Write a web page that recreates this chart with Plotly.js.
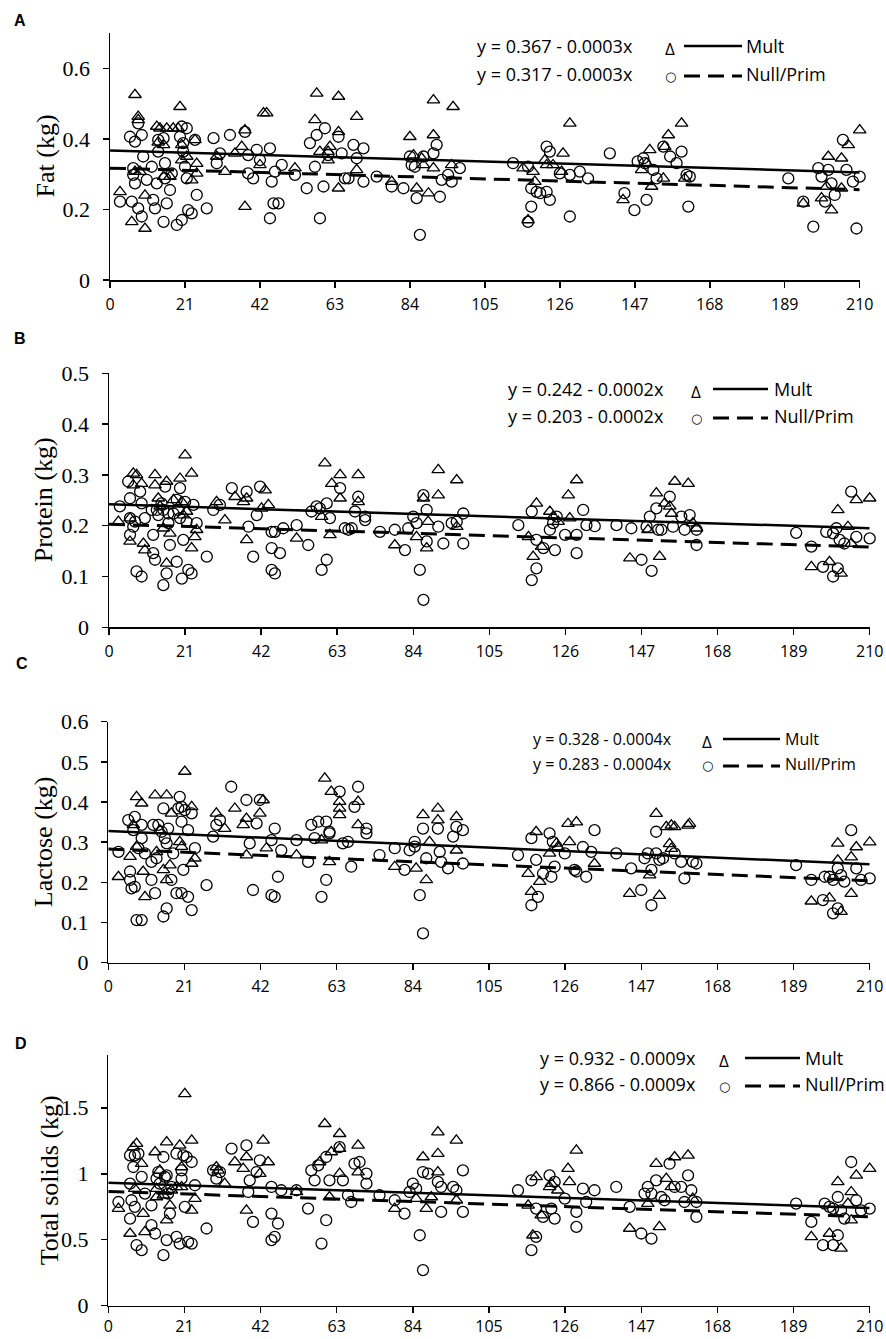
<!DOCTYPE html>
<html>
<head>
<meta charset="utf-8">
<script src="https://cdn.plot.ly/plotly-3.0.1.min.js"></script>
<style>
  html, body { margin: 0; padding: 0; background: #fff; }
  #chart { width: 886px; height: 1339px; }
</style>
</head>
<body>
<div id="chart"></div>
<script>
// days in milk, tick positions
const dayTicks = [0, 21, 42, 63, 84, 105, 126, 147, 168, 189, 210];
const trendX = [0, 210];

// ---- A: fat (kg) ----
const fatMult = [[2.8,0.25],[7.0,0.525],[7.9,0.463],[7.9,0.454],[6.1,0.165],[9.8,0.146],[9.8,0.24],[7.0,0.307],[8.4,0.307],[13.1,0.435],[14.0,0.43],[13.5,0.39],[15.0,0.383],[15.9,0.43],[17.7,0.43],[19.1,0.43],[19.6,0.491],[20.1,0.383],[15.0,0.293],[16.8,0.293],[20.1,0.34],[21.5,0.35],[23.8,0.397],[24.3,0.33],[22.9,0.283],[24.3,0.302],[29.9,0.35],[32.2,0.307],[35.0,0.359],[36.9,0.378],[37.8,0.425],[37.8,0.208],[42.0,0.326],[43.0,0.473],[43.9,0.473],[51.8,0.317],[57.9,0.529],[57.4,0.454],[58.8,0.364],[61.1,0.364],[61.6,0.378],[61.1,0.34],[64.0,0.52],[64.0,0.42],[64.0,0.26],[69.1,0.463],[69.1,0.312],[78.9,0.279],[84.0,0.406],[85.0,0.354],[85.9,0.26],[87.3,0.345],[87.8,0.326],[89.2,0.246],[90.6,0.411],[90.6,0.51],[90.6,0.317],[96.1,0.491],[95.7,0.326],[115.7,0.317],[117.1,0.17],[118.5,0.307],[119.0,0.279],[121.8,0.34],[122.3,0.326],[124.1,0.326],[126.9,0.359],[126.5,0.307],[128.8,0.444],[143.7,0.227],[148.9,0.312],[151.2,0.369],[150.3,0.331],[151.7,0.265],[155.0,0.288],[155.4,0.378],[156.4,0.411],[160.1,0.444],[161.0,0.288],[194.2,0.217],[199.3,0.232],[201.2,0.35],[202.1,0.198],[200.7,0.265],[204.9,0.345],[204.9,0.26],[206.8,0.383],[210.0,0.425]];
const fatNull = [[2.8,0.222],[5.6,0.406],[6.1,0.222],[7,0.392],[6.5,0.317],[6.5,0.298],[7,0.274],[7.9,0.444],[8.9,0.411],[9.3,0.35],[7.9,0.203],[8.9,0.18],[10.3,0.284],[11.7,0.321],[12.1,0.227],[12.6,0.203],[13.1,0.274],[13.5,0.397],[13.5,0.364],[15,0.402],[15.4,0.331],[15.4,0.288],[15.9,0.217],[15,0.165],[16.8,0.255],[17.3,0.302],[18.7,0.156],[19.6,0.406],[20.1,0.435],[20.1,0.17],[20.5,0.388],[20.5,0.364],[21,0.321],[21.5,0.43],[21.5,0.288],[21.9,0.198],[22.9,0.189],[23.8,0.397],[24.3,0.241],[27.1,0.203],[29,0.402],[29.9,0.331],[30.8,0.359],[33.6,0.411],[37.8,0.42],[38.7,0.354],[38.7,0.302],[40.1,0.288],[41.1,0.369],[42,0.34],[44.8,0.373],[45.3,0.279],[46.2,0.307],[45.8,0.217],[47.2,0.217],[44.8,0.175],[48.1,0.326],[51.8,0.298],[55.1,0.26],[56,0.388],[57.9,0.411],[57.4,0.321],[60.2,0.43],[58.8,0.175],[59.8,0.265],[61.1,0.354],[64,0.406],[64.9,0.359],[65.8,0.288],[66.8,0.288],[68.2,0.383],[69.1,0.345],[71,0.373],[71,0.279],[74.7,0.293],[78.9,0.265],[82.2,0.26],[84,0.35],[84.5,0.326],[85.4,0.321],[85.9,0.232],[86.8,0.128],[87.8,0.35],[90.6,0.359],[91.5,0.383],[92.4,0.236],[92.9,0.284],[94.7,0.298],[95.7,0.279],[98,0.317],[112.9,0.331],[117.1,0.321],[118,0.26],[118,0.208],[117.1,0.165],[119.5,0.25],[120.5,0.246],[122.3,0.378],[123.2,0.364],[122.3,0.25],[123.2,0.227],[126,0.302],[128.8,0.298],[128.8,0.18],[131.6,0.307],[133.9,0.288],[140,0.359],[144.1,0.246],[146.9,0.198],[147.8,0.336],[149.4,0.345],[149.8,0.331],[150.3,0.227],[152.2,0.312],[153.1,0.288],[155,0.378],[156.9,0.35],[158.7,0.331],[160.1,0.364],[161.5,0.298],[162.4,0.293],[162,0.208],[190,0.288],[194.2,0.222],[197,0.151],[198.4,0.317],[199.3,0.293],[200.3,0.222],[201.2,0.312],[202.1,0.274],[203,0.241],[205.3,0.397],[206.3,0.312],[208.1,0.279],[209.1,0.146],[210,0.293]];
const fatMultFit = [0.367, 0.305];
const fatNullFit = [0.317, 0.256];
const fatEquations = ['y = 0.367 - 0.0003x', 'y = 0.317 - 0.0003x'];
const fatTicks = [0, 0.2, 0.4, 0.6];

// ---- B: protein (kg) ----
const proteinMult = [[2.6,0.208],[5.8,0.169],[5.8,0.215],[6.7,0.303],[7.6,0.3],[6.7,0.28],[9,0.283],[9.5,0.165],[9.9,0.152],[12.7,0.3],[12.7,0.28],[13.6,0.254],[14.1,0.238],[15,0.195],[15.9,0.287],[15.9,0.126],[16.8,0.185],[17.8,0.251],[19.6,0.293],[20.1,0.247],[20.5,0.221],[21,0.339],[21.4,0.228],[22.8,0.303],[22.8,0.156],[23.7,0.178],[24.2,0.192],[29.7,0.247],[32,0.211],[34.8,0.257],[37.1,0.247],[38,0.254],[38,0.172],[42.1,0.234],[43.1,0.27],[44,0.241],[51.8,0.175],[59.6,0.323],[58.7,0.218],[61,0.182],[61.5,0.283],[63.8,0.3],[63.8,0.254],[68.8,0.3],[68.8,0.247],[78.9,0.162],[84.9,0.178],[86.8,0.254],[88.1,0.208],[87.7,0.156],[90.9,0.31],[90.9,0.26],[96,0.29],[96,0.198],[115.8,0.178],[117.1,0.139],[118,0.244],[119.4,0.159],[121.7,0.228],[122.6,0.218],[124,0.208],[126.8,0.26],[129.1,0.29],[127.2,0.215],[143.8,0.136],[148.8,0.192],[151.1,0.264],[152,0.139],[153.4,0.244],[154.8,0.238],[155.3,0.224],[156.2,0.287],[159.9,0.283],[161.2,0.205],[162.2,0.195],[193.9,0.119],[198.9,0.129],[201.2,0.231],[202.1,0.106],[204,0.198],[204.9,0.165],[206.3,0.251],[210,0.254]];
const proteinNull = [[3,0.238],[5.3,0.287],[5.8,0.254],[5.8,0.215],[5.8,0.182],[6.7,0.198],[7.2,0.208],[7.6,0.11],[9,0.1],[8.6,0.267],[9,0.244],[9.9,0.215],[11.8,0.231],[12.2,0.146],[12.2,0.182],[12.7,0.133],[13.2,0.231],[13.6,0.221],[14.5,0.244],[15,0.231],[15,0.083],[15.5,0.277],[15.9,0.106],[16.4,0.224],[16.4,0.205],[16.8,0.162],[17.8,0.224],[18.7,0.129],[18.7,0.251],[19.1,0.231],[19.6,0.274],[19.6,0.215],[20.1,0.096],[20.5,0.172],[21,0.247],[21.4,0.208],[21.9,0.113],[22.8,0.106],[23.3,0.241],[24.2,0.205],[27,0.139],[28.8,0.231],[30.6,0.241],[33.9,0.274],[38,0.267],[38.5,0.198],[39.8,0.139],[40.8,0.221],[41.7,0.277],[44.9,0.188],[45.8,0.188],[44.9,0.156],[44.9,0.113],[45.8,0.106],[47.2,0.146],[48.1,0.195],[51.8,0.201],[55,0.162],[55.9,0.228],[57.3,0.238],[58.2,0.234],[60.1,0.244],[60.1,0.133],[58.7,0.113],[61,0.215],[63.8,0.274],[65.1,0.195],[66.1,0.192],[67,0.195],[67.9,0.228],[68.8,0.257],[70.7,0.218],[70.7,0.211],[74.8,0.188],[78.9,0.192],[81.7,0.152],[82.6,0.195],[84,0.218],[84.9,0.205],[86.8,0.26],[85.8,0.113],[86.8,0.054],[87.7,0.231],[87.7,0.169],[90.9,0.198],[92.3,0.165],[94.6,0.205],[96,0.208],[97.8,0.224],[97.8,0.165],[113,0.201],[116.7,0.228],[118,0.172],[118,0.116],[116.7,0.093],[119.9,0.156],[123.1,0.152],[121.7,0.192],[122.6,0.205],[123.6,0.218],[125.9,0.182],[129.1,0.182],[129.1,0.146],[130.9,0.231],[131.8,0.201],[134.1,0.199],[140.1,0.201],[144.2,0.195],[147,0.133],[148.4,0.198],[149.3,0.218],[151.1,0.234],[149.8,0.111],[151.6,0.192],[152.5,0.192],[154.8,0.257],[155.7,0.198],[158,0.218],[158.9,0.192],[160.3,0.221],[162.2,0.192],[162.2,0.162],[189.7,0.186],[193.9,0.159],[197.1,0.119],[198,0.188],[199.9,0.185],[200.8,0.195],[199.9,0.1],[201.2,0.116],[201.7,0.172],[203,0.165],[204.9,0.267],[206.3,0.178],[210,0.175]];
const proteinMultFit = [0.242, 0.195];
const proteinNullFit = [0.203, 0.158];
const proteinEquations = ['y = 0.242 - 0.0002x', 'y = 0.203 - 0.0002x'];
const proteinTicks = [0, 0.1, 0.2, 0.3, 0.4, 0.5];

// ---- C: lactose (kg) ----
const lactoseMult = [[2.8,0.214],[6,0.264],[6.9,0.343],[7.8,0.413],[9.2,0.397],[7.8,0.289],[9.6,0.227],[10.1,0.164],[12.9,0.417],[13.3,0.276],[14.2,0.33],[15.2,0.231],[16.1,0.417],[16.1,0.206],[17,0.243],[17.4,0.372],[19.7,0.301],[20.2,0.289],[21.1,0.476],[23,0.388],[23,0.247],[23.9,0.26],[29.8,0.372],[32.1,0.334],[34.9,0.384],[37.2,0.343],[38.1,0.359],[38.1,0.268],[41.8,0.372],[42.7,0.405],[43.6,0.285],[51.9,0.268],[59.7,0.459],[58.8,0.305],[61.5,0.426],[61,0.251],[63.8,0.401],[63.8,0.384],[63.8,0.368],[68.9,0.401],[68.9,0.343],[79,0.239],[84.9,0.235],[86.8,0.368],[87.7,0.206],[88.6,0.301],[90.9,0.384],[90.9,0.355],[96,0.363],[96,0.28],[115.8,0.222],[116.7,0.177],[118,0.326],[119,0.202],[121.7,0.272],[123.6,0.297],[124,0.288],[126.8,0.346],[129.1,0.35],[127.2,0.301],[134.1,0.247],[143.8,0.172],[149.3,0.218],[151.1,0.371],[152,0.167],[153.9,0.338],[155.3,0.342],[156.2,0.338],[154.8,0.296],[155.3,0.284],[159.9,0.342],[160.3,0.346],[193.9,0.153],[198.9,0.161],[201.2,0.297],[201.2,0.255],[202.1,0.127],[204.9,0.172],[204.9,0.263],[206.3,0.288],[210,0.3]];
const lactoseNull = [[2.8,0.276],[5.5,0.355],[6,0.227],[6,0.206],[6.4,0.185],[7.3,0.189],[6.9,0.33],[7.3,0.363],[7.8,0.106],[9.2,0.106],[8.3,0.285],[9.2,0.343],[9.2,0.31],[10.1,0.272],[11.9,0.251],[11.9,0.206],[12.9,0.173],[12.4,0.343],[13.3,0.26],[13.8,0.343],[14.7,0.326],[15.2,0.384],[15.2,0.115],[15.6,0.31],[16.1,0.297],[16.1,0.135],[16.5,0.334],[17.4,0.206],[17.9,0.272],[18.8,0.173],[19.3,0.384],[19.7,0.413],[20.2,0.388],[20.2,0.173],[20.2,0.351],[20.7,0.231],[21.1,0.38],[22,0.33],[22,0.164],[23,0.131],[23,0.372],[23.9,0.285],[27.1,0.193],[28.9,0.314],[29.8,0.343],[30.8,0.355],[33.9,0.438],[38.1,0.405],[39,0.297],[39.9,0.181],[40.9,0.347],[41.8,0.405],[45,0.305],[45.9,0.334],[45,0.168],[45.9,0.164],[46.8,0.214],[47.7,0.28],[51.9,0.305],[55.1,0.251],[56,0.343],[56.9,0.31],[57.9,0.351],[60.1,0.351],[58.8,0.164],[60.1,0.206],[61,0.326],[61,0.322],[63.8,0.426],[64.7,0.297],[66.1,0.301],[67,0.239],[67.9,0.388],[68.9,0.438],[71.2,0.334],[71.2,0.322],[74.8,0.268],[79,0.285],[81.7,0.231],[83.1,0.28],[84.5,0.301],[84.5,0.289],[85.9,0.168],[86.8,0.073],[86.8,0.334],[87.7,0.26],[90.9,0.334],[91.4,0.276],[91.8,0.251],[93.7,0.235],[95.1,0.314],[96,0.338],[97.8,0.33],[97.8,0.247],[113,0.268],[116.7,0.31],[118,0.256],[118.5,0.164],[116.7,0.143],[119.9,0.222],[121.7,0.322],[122.6,0.301],[122.2,0.214],[123.1,0.239],[125.9,0.272],[128.6,0.231],[129.1,0.227],[130.9,0.288],[131.8,0.214],[133.2,0.276],[134.1,0.33],[140.1,0.272],[144.2,0.235],[147,0.181],[147.9,0.26],[148.8,0.272],[149.8,0.231],[149.8,0.143],[151.1,0.326],[151.1,0.272],[152,0.256],[153,0.26],[156.2,0.272],[158,0.251],[158.9,0.21],[161.2,0.251],[162.2,0.247],[189.7,0.243],[193.9,0.206],[197.1,0.156],[197.6,0.214],[198.9,0.214],[199.9,0.206],[199.9,0.123],[201.2,0.135],[201.2,0.235],[202.1,0.218],[203,0.202],[204.9,0.33],[206.3,0.235],[207.6,0.206],[210,0.21]];
const lactoseMultFit = [0.328, 0.245];
const lactoseNullFit = [0.283, 0.204];
const lactoseEquations = ['y = 0.328 - 0.0004x', 'y = 0.283 - 0.0004x'];
const lactoseTicks = [0, 0.1, 0.2, 0.3, 0.4, 0.5, 0.6];

// ---- D: total solids (kg) ----
const solidsMult = [[2.8,0.736],[6,0.547],[6.9,1.202],[7.8,1.228],[7.3,0.887],[9.2,1.076],[9.6,0.698],[10.1,0.56],[12.9,1.165],[13.3,0.887],[13.3,0.824],[14.2,1.026],[15.2,0.837],[16.1,1.24],[16.1,0.648],[17,0.761],[17.4,0.875],[18.8,0.9],[19.7,1.215],[20.2,1.051],[20.2,0.9],[21.1,1.606],[23,1.253],[23,0.723],[23.9,0.812],[29.8,1.051],[30.3,1.026],[32.1,0.925],[34.9,1.089],[37.2,1.039],[38.1,1.127],[38.1,0.723],[41.8,1.001],[42.7,1.253],[44.1,1.089],[51.9,0.862],[59.7,1.379],[58.3,1.089],[61,0.824],[61.5,1.165],[63.8,1.303],[63.8,1.19],[63.8,1.001],[68.9,1.215],[68.9,1.013],[79,0.736],[84.9,0.812],[86.8,1.127],[87.7,0.736],[89.1,0.824],[90.9,1.316],[90.9,1.152],[90.9,1.013],[96,1.253],[96,0.799],[115.8,0.761],[117.1,0.534],[118,0.976],[119.4,0.686],[121.7,0.9],[122.2,0.925],[124,0.875],[126.8,1.039],[127.2,0.938],[129.1,1.177],[143.8,0.585],[148.8,0.774],[151.1,1.076],[152,0.597],[153.9,0.963],[155.3,0.9],[156.2,1.127],[159.9,1.139],[161.2,0.812],[193.9,0.522],[198.9,0.547],[201.2,0.938],[202.1,0.434],[204,0.774],[204.9,0.648],[204.9,0.862],[206.3,0.988],[210,1.039]];
const solidsNull = [[2.8,0.786],[6,1.139],[6,0.925],[6,0.66],[6.4,0.799],[7.3,0.749],[7.3,1.139],[6.9,1.051],[7.8,0.459],[9.2,0.421],[8.3,1.152],[9.2,0.976],[10.1,0.85],[11.9,0.761],[11.9,0.61],[12.9,0.547],[13.3,0.963],[13.8,1.013],[14.2,0.925],[15.2,1.127],[15.2,0.383],[15.6,0.976],[16.1,0.988],[16.1,0.497],[16.5,0.85],[17,0.698],[17.4,0.9],[18.8,0.522],[18.8,1.152],[19.7,0.471],[20.2,1.026],[20.2,0.963],[20.7,1.139],[21.1,0.749],[21.6,1.127],[22,0.484],[23,0.471],[23,1.089],[23.9,0.913],[27.1,0.585],[28.9,1.026],[29.8,0.963],[30.8,1.013],[34,1.19],[38.1,1.215],[39,0.95],[39.9,0.635],[38.6,0.862],[40.9,1.013],[41.8,1.102],[45,0.9],[45,0.698],[45,0.497],[45.9,0.522],[46.8,0.623],[47.7,0.875],[51.9,0.875],[55.1,0.736],[56,1.026],[56.9,0.95],[57.9,1.064],[60.1,1.127],[58.8,0.471],[60.1,0.648],[61,0.95],[63.8,1.202],[64.7,0.95],[66.1,0.837],[67,0.786],[67.9,1.076],[69.3,1.089],[71.2,1.001],[71.2,0.925],[74.8,0.837],[79,0.799],[81.7,0.698],[83.1,0.862],[84,0.925],[84.9,0.887],[85.9,0.534],[86.8,0.27],[86.8,1.013],[88.2,1.001],[90.9,0.938],[91.8,0.9],[91.8,0.711],[95.1,0.9],[96,0.875],[97.8,1.026],[97.8,0.711],[113,0.875],[116.7,0.95],[118,0.736],[118,0.522],[116.7,0.421],[119.9,0.673],[121.7,0.988],[123.1,0.938],[122.2,0.736],[123.1,0.66],[125.9,0.812],[129.1,0.711],[129.1,0.597],[130.9,0.887],[131.8,0.786],[134.1,0.875],[140.1,0.9],[143.8,0.749],[147,0.547],[147.9,0.85],[148.8,0.9],[149.8,0.85],[149.8,0.509],[151.1,0.95],[152.5,0.824],[153.4,0.799],[154.8,1.076],[156.2,0.9],[158,0.9],[158.9,0.786],[159.9,0.988],[160.8,0.875],[162.2,0.786],[162.2,0.673],[189.7,0.774],[193.9,0.635],[197.1,0.459],[197.6,0.774],[198.9,0.749],[199.9,0.736],[199.9,0.459],[201.2,0.534],[201.2,0.824],[202.1,0.723],[203,0.66],[204.9,1.089],[206.3,0.799],[207.6,0.723],[210,0.736]];
const solidsMultFit = [0.932, 0.740];
const solidsNullFit = [0.866, 0.674];
const solidsEquations = ['y = 0.932 - 0.0009x', 'y = 0.866 - 0.0009x'];
const solidsTicks = [0, 0.5, 1, 1.5];

const seriesNames = ['Mult', 'Null/Prim'];

const panels = [
    {letter: 'A', title: 'Fat (kg)', mult: fatMult, nullPrim: fatNull, multFit: fatMultFit, nullFit: fatNullFit, equations: fatEquations, ticks: fatTicks, yMax: 0.7},
    {letter: 'B', title: 'Protein (kg)', mult: proteinMult, nullPrim: proteinNull, multFit: proteinMultFit, nullFit: proteinNullFit, equations: proteinEquations, ticks: proteinTicks, yMax: 0.5},
    {letter: 'C', title: 'Lactose (kg)', mult: lactoseMult, nullPrim: lactoseNull, multFit: lactoseMultFit, nullFit: lactoseNullFit, equations: lactoseEquations, ticks: lactoseTicks, yMax: 0.6},
    {letter: 'D', title: 'Total solids (kg)', mult: solidsMult, nullPrim: solidsNull, multFit: solidsMultFit, nullFit: solidsNullFit, equations: solidsEquations, ticks: solidsTicks, yMax: 1.9},
];

// page geometry in pixels (plot boxes, legend blocks, labels)
const W = 886, H = 1339;
const boxes = [
    {left: 110, right: 859.7, top: 33, bottom: 280},
    {left: 109, right: 869.7, top: 373.3, bottom: 627.3},
    {left: 108.3, right: 869.7, top: 721.7, bottom: 962.7},
    {left: 108.3, right: 869.7, top: 1055, bottom: 1305.7},
];
const xLabelStandoff = [3, 3, 3, 0];
const legendBoxes = [
    {eqX: 475, rows: [46, 74], markX: 670, lineL: 684, lineR: 742, nameX: 744, size: 18},
    {eqX: 506, rows: [389, 416], markX: 696, lineL: 713, lineR: 768, nameX: 772, size: 18},
    {eqX: 531, rows: [739, 764], markX: 707, lineL: 723, lineR: 780, nameX: 783, size: 16},
    {eqX: 538, rows: [1058, 1084], markX: 724, lineL: 745, lineR: 800, nameX: 803, size: 18},
];
const titleX = [45, 43, 43, 49];
const letterPos = [[20, 20], [20, 338], [22, 663], [21, 1043]];

const px = v => v / W;
const py = v => 1 - v / H;

const data = [];
const layout = {
    width: W,
    height: H,
    paper_bgcolor: '#ffffff',
    plot_bgcolor: '#ffffff',
    margin: {t: 0, r: 0, b: 0, l: 0},
    showlegend: false,
    annotations: [],
    shapes: [],
};

panels.forEach((panel, i) => {
    const n = i === 0 ? '' : String(i + 1);
    const box = boxes[i];

    data.push({
        x: panel.mult.map(p => p[0]),
        y: panel.mult.map(p => p[1]),
        type: 'scatter',
        mode: 'markers',
        name: seriesNames[0],
        cliponaxis: false,
        marker: {symbol: 'triangle-up-open', size: 11, color: '#000', line: {width: 1.3}},
        xaxis: 'x' + n,
        yaxis: 'y' + n,
    });
    data.push({
        x: panel.nullPrim.map(p => p[0]),
        y: panel.nullPrim.map(p => p[1]),
        type: 'scatter',
        mode: 'markers',
        name: seriesNames[1],
        cliponaxis: false,
        marker: {symbol: 'circle-open', size: 11, color: '#000', line: {width: 1.3}},
        xaxis: 'x' + n,
        yaxis: 'y' + n,
    });
    data.push({
        x: trendX,
        y: panel.multFit,
        type: 'scatter',
        mode: 'lines',
        line: {color: '#000', width: 2.5},
        xaxis: 'x' + n,
        yaxis: 'y' + n,
    });
    data.push({
        x: trendX,
        y: panel.nullFit,
        type: 'scatter',
        mode: 'lines',
        line: {color: '#000', width: 3, dash: '16px,8px'},
        xaxis: 'x' + n,
        yaxis: 'y' + n,
    });

    layout['xaxis' + n] = {
        domain: [px(box.left), px(box.right)],
        anchor: 'y' + n,
        range: [0, 210],
        tickvals: dayTicks,
        showline: true,
        linecolor: '#000',
        linewidth: 1.5,
        ticks: 'outside',
        ticklen: 6,
        tickwidth: 1.5,
        tickcolor: '#000',
        ticklabelstandoff: xLabelStandoff[i],
        showgrid: false,
        zeroline: false,
        tickfont: {family: 'Open Sans', size: 16, color: '#000'},
    };
    layout['yaxis' + n] = {
        domain: [py(box.bottom), py(box.top)],
        anchor: 'x' + n,
        range: [0, panel.yMax],
        tickvals: panel.ticks,
        showline: true,
        linecolor: '#000',
        linewidth: 1.5,
        ticks: 'outside',
        ticklen: 6,
        tickwidth: 1.5,
        tickcolor: '#000',
        ticklabelstandoff: 8,
        showgrid: false,
        zeroline: false,
        tickfont: {family: 'Liberation Serif', size: 22, color: '#000'},
    };

    // y-axis title
    layout.annotations.push({
        text: panel.title,
        xref: 'paper', yref: 'paper',
        x: px(titleX[i]), y: py((box.top + box.bottom) / 2),
        xanchor: 'center', yanchor: 'middle',
        textangle: -90,
        showarrow: false,
        font: {family: 'Liberation Serif', size: 26, color: '#000'},
    });
    // panel letter
    layout.annotations.push({
        text: '<b>' + panel.letter + '</b>',
        xref: 'paper', yref: 'paper',
        x: px(letterPos[i][0]), y: py(letterPos[i][1]),
        xanchor: 'center', yanchor: 'middle',
        showarrow: false,
        font: {family: 'Liberation Sans', size: 16, color: '#000'},
    });

    // legend block: equation, marker glyph, line sample, name
    const lg = legendBoxes[i];
    const glyphs = ['\u0394', '\u25CB'];
    const glyphFonts = [{family: 'Open Sans', size: 17, color: '#000'}, {family: 'DejaVu Sans', size: 13, color: '#000'}];
    const dashes = ['solid', '16px,8px'];
    const widths = [2.5, 3];
    [0, 1].forEach(r => {
        const rowY = lg.rows[r];
        layout.annotations.push({
            text: panel.equations[r],
            xref: 'paper', yref: 'paper',
            x: px(lg.eqX), y: py(rowY),
            xanchor: 'left', yanchor: 'middle',
            showarrow: false,
            font: {family: 'Open Sans', size: lg.size, color: '#000'},
        });
        layout.annotations.push({
            text: glyphs[r],
            xref: 'paper', yref: 'paper',
            x: px(lg.markX), y: py(rowY + 2),
            xanchor: 'center', yanchor: 'middle',
            showarrow: false,
            font: glyphFonts[r],
        });
        layout.annotations.push({
            text: seriesNames[r],
            xref: 'paper', yref: 'paper',
            x: px(lg.nameX), y: py(rowY),
            xanchor: 'left', yanchor: 'middle',
            showarrow: false,
            font: {family: 'Open Sans', size: lg.size, color: '#000'},
        });
        layout.shapes.push({
            type: 'line',
            xref: 'paper', yref: 'paper',
            x0: px(lg.lineL), x1: px(lg.lineR),
            y0: py(rowY + 2 * r), y1: py(rowY + 2 * r),
            line: {color: '#000', width: widths[r], dash: dashes[r]},
        });
    });
});

const config = {
    responsive: false,
    displayModeBar: false,
    staticPlot: true,
};

Plotly.newPlot('chart', data, layout, config);
</script>
</body>
</html>
